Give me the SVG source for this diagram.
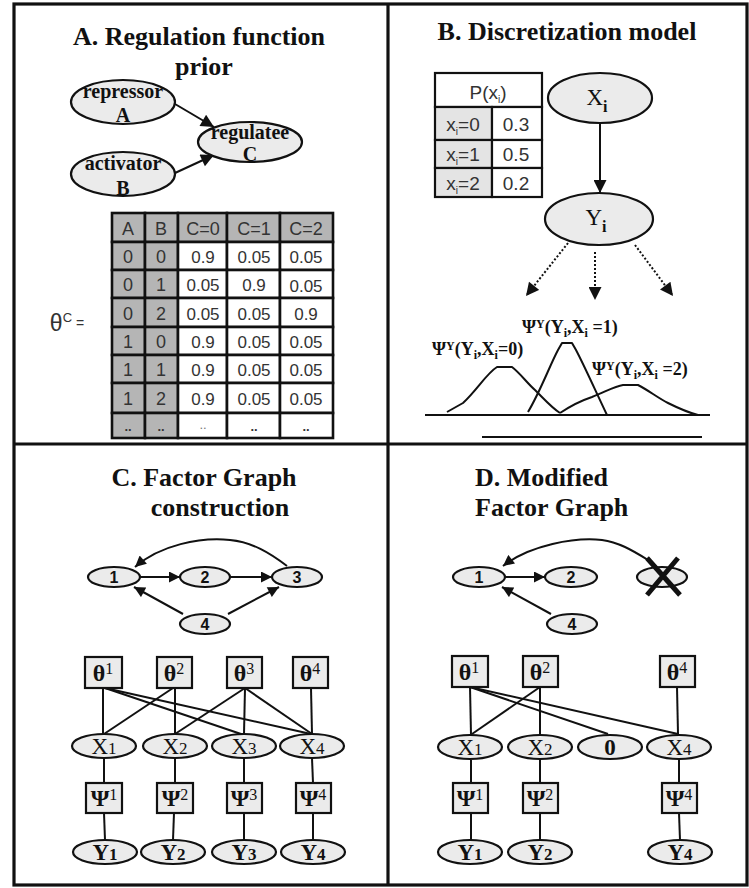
<svg xmlns="http://www.w3.org/2000/svg" width="749" height="888" viewBox="0 0 749 888">
  <style>
    .title { font-family: "Liberation Serif", "Times New Roman", serif; font-weight: bold; font-size: 26px; fill: #111; }
    .nd { fill: #ebebeb; stroke: #111; stroke-width: 2.2; }
    .lbl { font-family: "Liberation Serif", "Times New Roman", serif; font-weight: bold; font-size: 20px; fill: #111; text-anchor: middle; }
    .psi { font-family: "Liberation Serif", "Times New Roman", serif; font-weight: bold; font-size: 18px; fill: #111; }
    .sans { font-family: "Liberation Sans", Arial, sans-serif; fill: #333; text-anchor: middle; }
    .num { font-family: "Liberation Sans", Arial, sans-serif; font-weight: bold; font-size: 16px; fill: #111; text-anchor: middle; }
    .var { font-family: "Liberation Serif", "Times New Roman", serif; font-size: 23px; fill: #111; text-anchor: middle; }
    .fac { font-family: "Liberation Serif", "Times New Roman", serif; font-weight: bold; font-size: 24px; fill: #111; text-anchor: middle; }
    .sup { font-weight: normal; font-size: 16px; }
    .edge { stroke: #111; stroke-width: 2; fill: none; }
    .cellg { fill: #b5b5b5; stroke: #111; stroke-width: 2.6; }
    .cellw { fill: #fff; stroke: #111; stroke-width: 2.6; }
    .cellp { fill: #e4e4e4; stroke: #111; stroke-width: 2.2; }
    .cellq { fill: #fff; stroke: #111; stroke-width: 2.2; }
    .curve { stroke: #111; stroke-width: 2; fill: none; stroke-linejoin: round; }
  </style>
  <defs>
    <marker id="arr" viewBox="0 0 10 10" refX="10" refY="5" markerWidth="15" markerHeight="13" markerUnits="userSpaceOnUse" orient="auto">
      <path d="M0,0 L10,5 L0,10 z" fill="#111"/>
    </marker>
    <marker id="arrs" viewBox="0 0 10 10" refX="10" refY="5" markerWidth="13" markerHeight="11" markerUnits="userSpaceOnUse" orient="auto">
      <path d="M0,0 L10,5 L0,10 z" fill="#111"/>
    </marker>
  </defs>

  <rect x="0" y="0" width="749" height="888" fill="#fff"/>

  <!-- panel frame -->
  <g id="frame" stroke="#111" stroke-width="3.2" fill="none">
    <rect x="14" y="4" width="733" height="881"/>
    <line x1="388" y1="4" x2="388" y2="885"/>
    <line x1="14" y1="444" x2="747" y2="444"/>
  </g>

  <!-- ===== Panel A ===== -->
  <text class="title" x="199" y="45" text-anchor="middle">A. Regulation function</text>
  <text class="title" x="204" y="75" text-anchor="middle">prior</text>

  <g id="a-connectors">
    <line class="edge" x1="175" y1="104" x2="214" y2="127" marker-end="url(#arr)"/>
    <line class="edge" x1="175" y1="173" x2="214" y2="155" marker-end="url(#arr)"/>
  </g>
  <g id="node-repressor">
    <ellipse class="nd" cx="123" cy="102" rx="52" ry="22"/>
    <text class="lbl" x="123" y="98">repressor</text>
    <text class="lbl" x="123" y="122">A</text>
  </g>
  <g id="node-activator">
    <ellipse class="nd" cx="123" cy="174" rx="52" ry="22"/>
    <text class="lbl" x="123" y="170">activator</text>
    <text class="lbl" x="123" y="195">B</text>
  </g>
  <g id="node-regulatee">
    <ellipse class="nd" cx="250" cy="142" rx="52" ry="20"/>
    <text class="lbl" x="250" y="139">regulatee</text>
    <text class="lbl" x="250" y="161">C</text>
  </g>

  <!-- conditional probability table for C -->
  <g id="theta-table">
    <text class="sans" x="67" y="331" font-size="23" text-anchor="start">θ<tspan font-size="13" dy="-9">C</tspan><tspan font-size="14" dy="6"> =</tspan></text>
    <!-- header row -->
    <rect class="cellg" x="112" y="213" width="33" height="29"/>
    <rect class="cellg" x="145" y="213" width="33" height="29"/>
    <rect class="cellg" x="178" y="213" width="49" height="29"/>
    <rect class="cellg" x="227" y="213" width="53" height="29"/>
    <rect class="cellg" x="280" y="213" width="53" height="29"/>
    <g class="sans" font-size="18">
      <text x="128" y="235">A</text><text x="161" y="235">B</text>
      <text x="203" y="235">C=0</text><text x="254" y="235">C=1</text><text x="306" y="235">C=2</text>
    </g>
    <!-- body rows -->
    <g>
      <rect class="cellg" x="112" y="242" width="33" height="28"/><rect class="cellg" x="145" y="242" width="33" height="28"/>
      <rect class="cellw" x="178" y="242" width="49" height="28"/><rect class="cellw" x="227" y="242" width="53" height="28"/><rect class="cellw" x="280" y="242" width="53" height="28"/>
      <rect class="cellg" x="112" y="270" width="33" height="28"/><rect class="cellg" x="145" y="270" width="33" height="28"/>
      <rect class="cellw" x="178" y="270" width="49" height="28"/><rect class="cellw" x="227" y="270" width="53" height="28"/><rect class="cellw" x="280" y="270" width="53" height="28"/>
      <rect class="cellg" x="112" y="298" width="33" height="29"/><rect class="cellg" x="145" y="298" width="33" height="29"/>
      <rect class="cellw" x="178" y="298" width="49" height="29"/><rect class="cellw" x="227" y="298" width="53" height="29"/><rect class="cellw" x="280" y="298" width="53" height="29"/>
      <rect class="cellg" x="112" y="327" width="33" height="28"/><rect class="cellg" x="145" y="327" width="33" height="28"/>
      <rect class="cellw" x="178" y="327" width="49" height="28"/><rect class="cellw" x="227" y="327" width="53" height="28"/><rect class="cellw" x="280" y="327" width="53" height="28"/>
      <rect class="cellg" x="112" y="355" width="33" height="28"/><rect class="cellg" x="145" y="355" width="33" height="28"/>
      <rect class="cellw" x="178" y="355" width="49" height="28"/><rect class="cellw" x="227" y="355" width="53" height="28"/><rect class="cellw" x="280" y="355" width="53" height="28"/>
      <rect class="cellg" x="112" y="383" width="33" height="30"/><rect class="cellg" x="145" y="383" width="33" height="30"/>
      <rect class="cellw" x="178" y="383" width="49" height="30"/><rect class="cellw" x="227" y="383" width="53" height="30"/><rect class="cellw" x="280" y="383" width="53" height="30"/>
      <rect class="cellg" x="112" y="413" width="33" height="25"/><rect class="cellg" x="145" y="413" width="33" height="25"/>
      <rect class="cellw" x="178" y="413" width="49" height="25"/><rect class="cellw" x="227" y="413" width="53" height="25"/><rect class="cellw" x="280" y="413" width="53" height="25"/>
    </g>
    <g class="sans" font-size="17">
      <text x="128" y="263" font-size="18">0</text><text x="161" y="263" font-size="18">0</text><text x="203" y="263">0.9</text><text x="254" y="263">0.05</text><text x="306" y="263">0.05</text>
      <text x="128" y="291" font-size="18">0</text><text x="161" y="291" font-size="18">1</text><text x="203" y="291">0.05</text><text x="254" y="291">0.9</text><text x="306" y="292">0.05</text>
      <text x="128" y="320" font-size="18">0</text><text x="161" y="320" font-size="18">2</text><text x="203" y="320">0.05</text><text x="254" y="320">0.05</text><text x="306" y="320">0.9</text>
      <text x="128" y="348" font-size="18">1</text><text x="161" y="348" font-size="18">0</text><text x="203" y="348">0.9</text><text x="254" y="348">0.05</text><text x="306" y="348">0.05</text>
      <text x="128" y="376" font-size="18">1</text><text x="161" y="376" font-size="18">1</text><text x="203" y="376">0.9</text><text x="254" y="376">0.05</text><text x="306" y="376">0.05</text>
      <text x="128" y="405" font-size="18">1</text><text x="161" y="405" font-size="18">2</text><text x="203" y="405">0.9</text><text x="254" y="405">0.05</text><text x="306" y="405">0.05</text>
      <text x="128" y="431" font-weight="bold" font-size="13">..</text><text x="161" y="431" font-weight="bold" font-size="13">..</text>
      <text x="203" y="429" font-size="13" fill="#777">..</text><text x="254" y="431" font-weight="bold" font-size="13">..</text><text x="306" y="431" font-weight="bold" font-size="13">..</text>
    </g>
  </g>

  <!-- ===== Panel B ===== -->
  <text class="title" x="567" y="40" text-anchor="middle">B. Discretization model</text>

  <g id="prior-table">
    <rect class="cellq" x="435" y="73" width="107" height="34"/>
    <rect class="cellp" x="435" y="107" width="57" height="33"/><rect class="cellq" x="492" y="107" width="50" height="33"/>
    <rect class="cellp" x="435" y="140" width="57" height="28"/><rect class="cellq" x="492" y="140" width="50" height="28"/>
    <rect class="cellp" x="435" y="168" width="57" height="29"/><rect class="cellq" x="492" y="168" width="50" height="29"/>
    <g class="sans" font-size="19">
      <text x="488" y="99">P(x<tspan font-size="10" dy="4">i</tspan><tspan dy="-4">)</tspan></text>
      <text x="463" y="131">x<tspan font-size="10" dy="4">i</tspan><tspan dy="-4">=0</tspan></text>
      <text x="463" y="161">x<tspan font-size="10" dy="4">i</tspan><tspan dy="-4">=1</tspan></text>
      <text x="463" y="190">x<tspan font-size="10" dy="4">i</tspan><tspan dy="-4">=2</tspan></text>
      <text x="516" y="131">0.3</text>
      <text x="516" y="161">0.5</text>
      <text x="516" y="190">0.2</text>
    </g>
  </g>

  <g id="b-connectors">
    <line class="edge" x1="600" y1="123" x2="600" y2="193" marker-end="url(#arr)"/>
    <g stroke-dasharray="2 2">
      <line class="edge" x1="568" y1="243" x2="526" y2="296" marker-end="url(#arr)"/>
      <line class="edge" x1="595" y1="252" x2="595" y2="300" marker-end="url(#arr)"/>
      <line class="edge" x1="635" y1="245" x2="673" y2="296" marker-end="url(#arr)"/>
    </g>
  </g>
  <g id="node-Xi">
    <ellipse class="nd" cx="600" cy="98" rx="52" ry="25"/>
    <text class="var" x="597" y="105" font-size="25">X<tspan font-size="16" font-weight="bold" dy="7">i</tspan></text>
  </g>
  <g id="node-Yi">
    <ellipse class="nd" cx="599" cy="219" rx="54" ry="26"/>
    <text class="var" x="596" y="225" font-size="25">Y<tspan font-size="16" font-weight="bold" dy="7">i</tspan></text>
  </g>

  <!-- emission densities for each state of x_i -->
  <g id="densities">
    <line class="curve" x1="425" y1="415" x2="710" y2="415"/>
    <line class="curve" x1="482" y1="437" x2="702" y2="437"/>
    <path class="curve" d="M447,412 L463,403 C477,390 487,373 497,367 L512,367 C520,373 527,383 535,390 C545,400 552,408 560,413"/>
    <path class="curve" d="M528,412 C540,392 550,365 558,350 L562,343 L572,343 L576,350 C584,365 596,392 607,415"/>
    <path class="curve" d="M560,413 C572,405 583,400 592,397 C605,392 615,386 623,385 L638,385 C648,390 658,398 668,403 C680,409 690,413 698,415"/>
    <text class="psi" x="432" y="355">Ψ<tspan font-size="12" dy="-5">Y</tspan><tspan dy="5">(Y</tspan><tspan font-size="12" dy="4">i</tspan><tspan dy="-4">,X</tspan><tspan font-size="12" dy="4">i</tspan><tspan dy="-4">=0)</tspan></text>
    <text class="psi" x="522" y="333">Ψ<tspan font-size="12" dy="-5">Y</tspan><tspan dy="5">(Y</tspan><tspan font-size="12" dy="4">i</tspan><tspan dy="-4">,X</tspan><tspan font-size="12" dy="4">i</tspan><tspan dy="-4"> =1)</tspan></text>
    <text class="psi" x="592" y="375">Ψ<tspan font-size="12" dy="-5">Y</tspan><tspan dy="5">(Y</tspan><tspan font-size="12" dy="4">i</tspan><tspan dy="-4">,X</tspan><tspan font-size="12" dy="4">i</tspan><tspan dy="-4"> =2)</tspan></text>
  </g>

  <!-- ===== Panel C ===== -->
  <text class="title" x="204" y="486" text-anchor="middle">C. Factor Graph</text>
  <text class="title" x="220" y="516" text-anchor="middle">construction</text>

  <g id="c-connectors">
    <line class="edge" x1="140" y1="577" x2="180" y2="577" marker-end="url(#arrs)"/>
    <line class="edge" x1="230" y1="577" x2="272" y2="577" marker-end="url(#arrs)"/>
    <line class="edge" x1="183" y1="614" x2="134" y2="587" marker-end="url(#arrs)"/>
    <line class="edge" x1="228" y1="614" x2="279" y2="587" marker-end="url(#arrs)"/>
    <path class="edge" d="M287,566 C270,553 252,542 230,540 C200,537 160,545 135,567" marker-end="url(#arrs)"/>
    <!-- factor graph edges -->
    <line class="edge" x1="103" y1="688" x2="103" y2="735"/>
    <line class="edge" x1="105" y1="688" x2="244" y2="735"/>
    <line class="edge" x1="105" y1="688" x2="311" y2="734"/>
    <line class="edge" x1="173" y1="688" x2="104" y2="734"/>
    <line class="edge" x1="175" y1="688" x2="175" y2="734"/>
    <line class="edge" x1="245" y1="688" x2="175" y2="734"/>
    <line class="edge" x1="245" y1="688" x2="244" y2="734"/>
    <line class="edge" x1="245" y1="688" x2="312" y2="734"/>
    <line class="edge" x1="311" y1="688" x2="312" y2="734"/>
    <line class="edge" x1="104" y1="758" x2="104" y2="783"/>
    <line class="edge" x1="175" y1="758" x2="175" y2="783"/>
    <line class="edge" x1="244" y1="758" x2="244" y2="783"/>
    <line class="edge" x1="312" y1="758" x2="313" y2="783"/>
    <line class="edge" x1="104" y1="813" x2="105" y2="840"/>
    <line class="edge" x1="174" y1="813" x2="173" y2="840"/>
    <line class="edge" x1="244" y1="813" x2="244" y2="840"/>
    <line class="edge" x1="313" y1="813" x2="313" y2="840"/>
  </g>

  <g id="c-gene-1"><ellipse class="nd" cx="114" cy="577" rx="26" ry="10"/><text class="num" x="114" y="583">1</text></g>
  <g id="c-gene-2"><ellipse class="nd" cx="205" cy="577" rx="25" ry="10"/><text class="num" x="205" y="583">2</text></g>
  <g id="c-gene-3"><ellipse class="nd" cx="297" cy="577" rx="25" ry="10"/><text class="num" x="297" y="583">3</text></g>
  <g id="c-gene-4"><ellipse class="nd" cx="205" cy="624" rx="25" ry="10"/><text class="num" x="205" y="630">4</text></g>

  <g id="c-theta-1"><rect class="nd" x="85" y="657" width="37" height="31"/><text class="fac" x="103" y="681">θ<tspan class="sup" dy="-7">1</tspan></text></g>
  <g id="c-theta-2"><rect class="nd" x="157" y="657" width="35" height="31"/><text class="fac" x="174" y="681">θ<tspan class="sup" dy="-7">2</tspan></text></g>
  <g id="c-theta-3"><rect class="nd" x="227" y="657" width="35" height="31"/><text class="fac" x="244" y="681">θ<tspan class="sup" dy="-7">3</tspan></text></g>
  <g id="c-theta-4"><rect class="nd" x="293" y="657" width="35" height="31"/><text class="fac" x="310" y="681">θ<tspan class="sup" dy="-7">4</tspan></text></g>

  <g id="c-X1"><ellipse class="nd" cx="104" cy="746" rx="32" ry="12"/><text class="var" x="104" y="754">X<tspan font-size="17">1</tspan></text></g>
  <g id="c-X2"><ellipse class="nd" cx="175" cy="746" rx="32" ry="12"/><text class="var" x="175" y="754">X<tspan font-size="17">2</tspan></text></g>
  <g id="c-X3"><ellipse class="nd" cx="244" cy="746" rx="32" ry="12"/><text class="var" x="244" y="754">X<tspan font-size="17">3</tspan></text></g>
  <g id="c-X4"><ellipse class="nd" cx="312" cy="746" rx="32" ry="12"/><text class="var" x="312" y="754">X<tspan font-size="17">4</tspan></text></g>

  <g id="c-psi-1"><rect class="nd" x="86" y="783" width="36" height="30"/><text class="fac" x="104" y="806" font-size="22">Ψ<tspan class="sup" dy="-6">1</tspan></text></g>
  <g id="c-psi-2"><rect class="nd" x="157" y="783" width="36" height="30"/><text class="fac" x="175" y="806" font-size="22">Ψ<tspan class="sup" dy="-6">2</tspan></text></g>
  <g id="c-psi-3"><rect class="nd" x="227" y="783" width="35" height="30"/><text class="fac" x="244" y="806" font-size="22">Ψ<tspan class="sup" dy="-6">3</tspan></text></g>
  <g id="c-psi-4"><rect class="nd" x="296" y="783" width="35" height="30"/><text class="fac" x="313" y="806" font-size="22">Ψ<tspan class="sup" dy="-6">4</tspan></text></g>

  <g id="c-Y1"><ellipse class="nd" cx="105" cy="852" rx="32" ry="12"/><text class="var" x="105" y="860" font-weight="bold">Y<tspan font-size="17">1</tspan></text></g>
  <g id="c-Y2"><ellipse class="nd" cx="173" cy="852" rx="32" ry="12"/><text class="var" x="173" y="860" font-weight="bold">Y<tspan font-size="17">2</tspan></text></g>
  <g id="c-Y3"><ellipse class="nd" cx="244" cy="852" rx="32" ry="12"/><text class="var" x="244" y="860" font-weight="bold">Y<tspan font-size="17">3</tspan></text></g>
  <g id="c-Y4"><ellipse class="nd" cx="313" cy="852" rx="32" ry="12"/><text class="var" x="313" y="860" font-weight="bold">Y<tspan font-size="17">4</tspan></text></g>

  <!-- ===== Panel D ===== -->
  <text class="title" x="475" y="486">D. Modified</text>
  <text class="title" x="475" y="516">Factor Graph</text>

  <g id="d-connectors">
    <line class="edge" x1="505" y1="577" x2="545" y2="577" marker-end="url(#arrs)"/>
    <line class="edge" x1="551" y1="614" x2="502" y2="587" marker-end="url(#arrs)"/>
    <path class="edge" d="M648,560 C632,550 618,542 602,540 C575,537 530,545 503,566" marker-end="url(#arrs)"/>
    <!-- factor graph edges -->
    <line class="edge" x1="470" y1="687" x2="471" y2="735"/>
    <line class="edge" x1="470" y1="687" x2="608" y2="734"/>
    <line class="edge" x1="470" y1="687" x2="678" y2="734"/>
    <line class="edge" x1="540" y1="687" x2="472" y2="734"/>
    <line class="edge" x1="540" y1="687" x2="540" y2="734"/>
    <line class="edge" x1="677" y1="687" x2="678" y2="734"/>
    <line class="edge" x1="471" y1="760" x2="471" y2="783"/>
    <line class="edge" x1="540" y1="760" x2="540" y2="783"/>
    <line class="edge" x1="679" y1="760" x2="679" y2="783"/>
    <line class="edge" x1="471" y1="813" x2="471" y2="840"/>
    <line class="edge" x1="540" y1="813" x2="540" y2="840"/>
    <line class="edge" x1="679" y1="813" x2="680" y2="840"/>
  </g>

  <g id="d-gene-1"><ellipse class="nd" cx="479" cy="577" rx="26" ry="10"/><text class="num" x="479" y="583">1</text></g>
  <g id="d-gene-2"><ellipse class="nd" cx="571" cy="577" rx="26" ry="10"/><text class="num" x="571" y="583">2</text></g>
  <g id="d-gene-3">
    <ellipse class="nd" cx="662" cy="577" rx="25" ry="10"/>
    <path d="M647,558 L680,595 M678,558 L647,595" stroke="#111" stroke-width="5" fill="none"/>
  </g>
  <g id="d-gene-4"><ellipse class="nd" cx="572" cy="624" rx="25" ry="10"/><text class="num" x="572" y="630">4</text></g>

  <g id="d-theta-1"><rect class="nd" x="452" y="656" width="36" height="31"/><text class="fac" x="469" y="680">θ<tspan class="sup" dy="-7">1</tspan></text></g>
  <g id="d-theta-2"><rect class="nd" x="523" y="656" width="35" height="31"/><text class="fac" x="540" y="680">θ<tspan class="sup" dy="-7">2</tspan></text></g>
  <g id="d-theta-4"><rect class="nd" x="660" y="656" width="35" height="31"/><text class="fac" x="677" y="680">θ<tspan class="sup" dy="-7">4</tspan></text></g>

  <g id="d-X1"><ellipse class="nd" cx="470" cy="747" rx="32" ry="12"/><text class="var" x="470" y="755">X<tspan font-size="17">1</tspan></text></g>
  <g id="d-X2"><ellipse class="nd" cx="540" cy="747" rx="32" ry="12"/><text class="var" x="540" y="755">X<tspan font-size="17">2</tspan></text></g>
  <g id="d-zero"><ellipse class="nd" cx="610" cy="747" rx="32" ry="12"/><text class="var" x="610" y="755" font-weight="bold">0</text></g>
  <g id="d-X4"><ellipse class="nd" cx="679" cy="747" rx="32" ry="12"/><text class="var" x="679" y="755">X<tspan font-size="17">4</tspan></text></g>

  <g id="d-psi-1"><rect class="nd" x="453" y="783" width="35" height="30"/><text class="fac" x="470" y="806" font-size="22">Ψ<tspan class="sup" dy="-6">1</tspan></text></g>
  <g id="d-psi-2"><rect class="nd" x="523" y="783" width="35" height="30"/><text class="fac" x="540" y="806" font-size="22">Ψ<tspan class="sup" dy="-6">2</tspan></text></g>
  <g id="d-psi-4"><rect class="nd" x="662" y="783" width="35" height="30"/><text class="fac" x="679" y="806" font-size="22">Ψ<tspan class="sup" dy="-6">4</tspan></text></g>

  <g id="d-Y1"><ellipse class="nd" cx="470" cy="852" rx="32" ry="12"/><text class="var" x="470" y="860" font-weight="bold">Y<tspan font-size="17">1</tspan></text></g>
  <g id="d-Y2"><ellipse class="nd" cx="540" cy="852" rx="32" ry="12"/><text class="var" x="540" y="860" font-weight="bold">Y<tspan font-size="17">2</tspan></text></g>
  <g id="d-Y4"><ellipse class="nd" cx="680" cy="852" rx="32" ry="12"/><text class="var" x="680" y="860" font-weight="bold">Y<tspan font-size="17">4</tspan></text></g>
</svg>
